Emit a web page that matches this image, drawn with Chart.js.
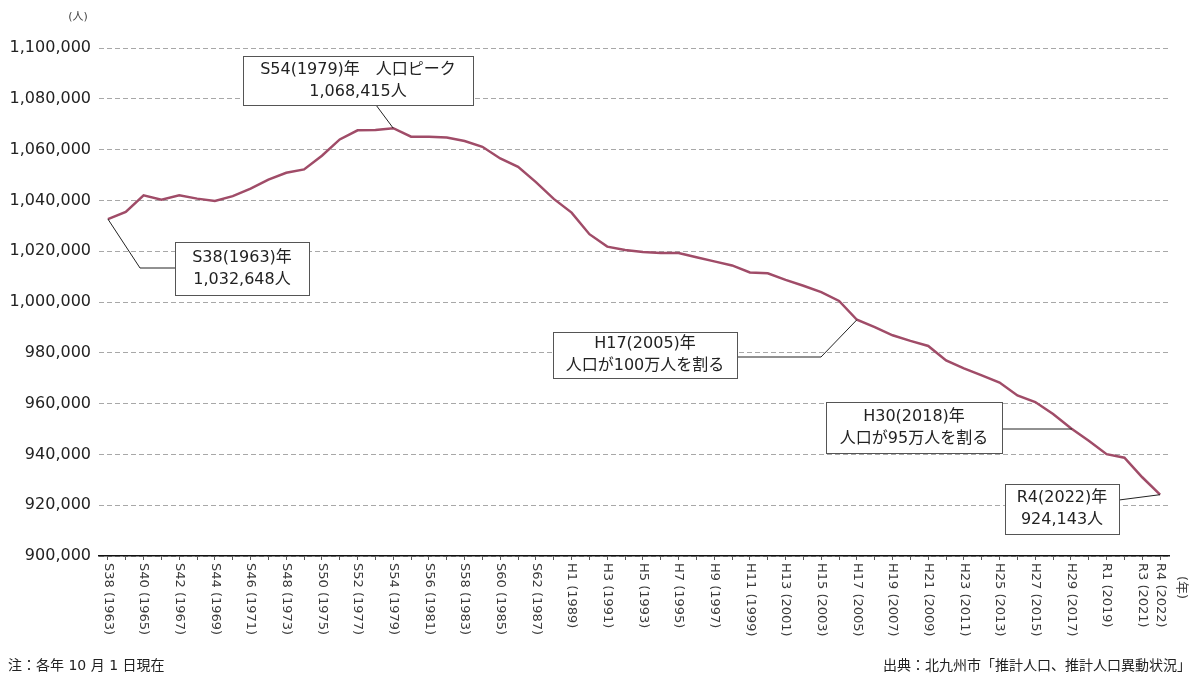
<!DOCTYPE html>
<html lang="ja">
<head>
<meta charset="utf-8">
<title>北九州市の人口推移</title>
<script src="https://cdn.jsdelivr.net/npm/chart.js@4/dist/chart.umd.min.js"></script>
<style>
  html, body { margin: 0; padding: 0; background: #fff; }
  #wrap { position: relative; width: 1195px; height: 678px; overflow: hidden; }
  canvas { display: block; }
  .note { position: absolute; top: 654px; font: 14px "DejaVu Sans", "Noto Sans CJK JP", sans-serif; color: #222; white-space: nowrap; }
  #note-left { left: 8px; }
  #note-right { right: 4px; }
</style>
</head>
<body>
<div id="wrap">
  <canvas id="chart" width="1195" height="678"></canvas>
  <div class="note" id="note-left">注：各年 10 月 1 日現在</div>
  <div class="note" id="note-right">出典：北九州市「推計人口、推計人口異動状況」</div>
</div>
<script>
// Each year's October 1 population of Kitakyushu, 1963–2022
const eraLabels = [
  'S38 (1963)', 'S39 (1964)', 'S40 (1965)', 'S41 (1966)', 'S42 (1967)', 'S43 (1968)',
  'S44 (1969)', 'S45 (1970)', 'S46 (1971)', 'S47 (1972)', 'S48 (1973)', 'S49 (1974)',
  'S50 (1975)', 'S51 (1976)', 'S52 (1977)', 'S53 (1978)', 'S54 (1979)', 'S55 (1980)',
  'S56 (1981)', 'S57 (1982)', 'S58 (1983)', 'S59 (1984)', 'S60 (1985)', 'S61 (1986)',
  'S62 (1987)', 'S63 (1988)', 'H1 (1989)', 'H2 (1990)', 'H3 (1991)', 'H4 (1992)',
  'H5 (1993)', 'H6 (1994)', 'H7 (1995)', 'H8 (1996)', 'H9 (1997)', 'H10 (1998)',
  'H11 (1999)', 'H12 (2000)', 'H13 (2001)', 'H14 (2002)', 'H15 (2003)', 'H16 (2004)',
  'H17 (2005)', 'H18 (2006)', 'H19 (2007)', 'H20 (2008)', 'H21 (2009)', 'H22 (2010)',
  'H23 (2011)', 'H24 (2012)', 'H25 (2013)', 'H26 (2014)', 'H27 (2015)', 'H28 (2016)',
  'H29 (2017)', 'H30 (2018)', 'R1 (2019)', 'R2 (2020)', 'R3 (2021)', 'R4 (2022)'
];

const population = [
  1032648, 1035500, 1042000, 1040300, 1042000, 1040700,
  1039800, 1041700, 1044600, 1048200, 1050900, 1052200,
  1057600, 1064000, 1067600, 1067700, 1068415, 1065100,
  1065100, 1064800, 1063400, 1061100, 1056500, 1053200,
  1047200, 1040600, 1035200, 1026700, 1021800, 1020500,
  1019700, 1019300, 1019300, 1017600, 1016000, 1014400,
  1011600, 1011300, 1008700, 1006400, 1003900, 1000400,
  993000, 990100, 986900, 984700, 982700, 977000,
  973900, 971100, 968300, 963200, 960600, 955900,
  950300, 945400, 940100, 938700, 931000, 924143
];

// Labels printed under the axis (every other year, plus the latest)
const xTickLabels = [
  'S38 (1963)', 'S40 (1965)', 'S42 (1967)', 'S44 (1969)', 'S46 (1971)', 'S48 (1973)',
  'S50 (1975)', 'S52 (1977)', 'S54 (1979)', 'S56 (1981)', 'S58 (1983)', 'S60 (1985)',
  'S62 (1987)', 'H1 (1989)', 'H3 (1991)', 'H5 (1993)', 'H7 (1995)', 'H9 (1997)',
  'H11 (1999)', 'H13 (2001)', 'H15 (2003)', 'H17 (2005)', 'H19 (2007)', 'H21 (2009)',
  'H23 (2011)', 'H25 (2013)', 'H27 (2015)', 'H29 (2017)', 'R1 (2019)', 'R3 (2021)', 'R4 (2022)'
];

const yTickValues = [900000, 920000, 940000, 960000, 980000, 1000000,
                     1020000, 1040000, 1060000, 1080000, 1100000];

const FONT = '"DejaVu Sans", "Noto Sans CJK JP", sans-serif';
const fmt = v => v.toLocaleString('en-US');

const idx = label => eraLabels.indexOf(label);
const iPeak = idx('S54 (1979)');
const iFirst = idx('S38 (1963)');
const iLast = idx('R4 (2022)');
const i2005 = idx('H17 (2005)');

// Callout boxes: rect = [left, top, width, height]; route = elbow points of the leader, box side first
const callouts = [
  { lines: ['S54(1979)年　人口ピーク', fmt(population[iPeak]) + '人'],
    rect: [243, 56, 230, 49], route: [[376, 105]], target: { index: iPeak } },
  { lines: ['S38(1963)年', fmt(population[iFirst]) + '人'],
    rect: [175, 242, 134, 53], route: [[175, 268], [140, 268]], target: { index: iFirst } },
  { lines: ['H17(2005)年', '人口が100万人を割る'],
    rect: [553, 332, 184, 46], route: [[737, 357], [821, 357]], target: { index: i2005 } },
  { lines: ['H30(2018)年', '人口が95万人を割る'],
    rect: [826, 402, 176, 51], route: [], target: { crossing: 950000 } },
  { lines: ['R4(2022)年', fmt(population[iLast]) + '人'],
    rect: [1005, 484, 114, 50], route: [[1119, 500]], target: { index: iLast } }
];

function targetPoint(chart, t) {
  const xs = chart.scales.x, ys = chart.scales.y;
  if (t.index !== undefined) {
    return [xs.getPixelForValue(t.index), ys.getPixelForValue(population[t.index])];
  }
  // where the series first drops below a threshold
  for (let i = 0; i < population.length - 1; i++) {
    if (population[i] >= t.crossing && population[i + 1] < t.crossing) {
      const f = (population[i] - t.crossing) / (population[i] - population[i + 1]);
      const x0 = xs.getPixelForValue(i), x1 = xs.getPixelForValue(i + 1);
      return [x0 + (x1 - x0) * f, ys.getPixelForValue(t.crossing)];
    }
  }
  return null;
}

const calloutPlugin = {
  id: 'callouts',
  afterDatasetsDraw(chart) {
    const ctx = chart.ctx;
    ctx.save();
    for (const c of callouts) {
      const tp = targetPoint(chart, c.target);
      const [l, t, w, h] = c.rect;
      // leader
      const pts = c.route.length ? c.route.slice() : [[l + w, tp[1]]];
      pts.push(tp);
      ctx.beginPath();
      ctx.moveTo(pts[0][0], pts[0][1]);
      for (let k = 1; k < pts.length; k++) ctx.lineTo(pts[k][0], pts[k][1]);
      ctx.strokeStyle = '#222';
      ctx.lineWidth = 1;
      ctx.stroke();
      // box
      ctx.fillStyle = '#fff';
      ctx.fillRect(l, t, w, h);
      ctx.strokeStyle = '#555';
      ctx.lineWidth = 1;
      ctx.strokeRect(l + 0.5, t + 0.5, w, h);
      // text
      ctx.fillStyle = '#222';
      ctx.font = '16px ' + FONT;
      ctx.textAlign = 'center';
      ctx.textBaseline = 'middle';
      const cy = t + h / 2, gap = 22;
      c.lines.forEach((s, k) => {
        ctx.fillText(s, l + w / 2, cy + (k - (c.lines.length - 1) / 2) * gap);
      });
    }
    ctx.restore();
  }
};

const axisTextPlugin = {
  id: 'axisText',
  afterDraw(chart) {
    const ctx = chart.ctx;
    const xs = chart.scales.x, area = chart.chartArea;
    ctx.save();
    ctx.fillStyle = '#3a3a3a';
    ctx.font = '13px ' + FONT;
    ctx.textAlign = 'left';
    ctx.textBaseline = 'middle';
    for (const lab of xTickLabels) {
      const x = xs.getPixelForValue(idx(lab));
      ctx.save();
      ctx.translate(x, area.bottom + 7);
      ctx.rotate(Math.PI / 2);
      ctx.fillText(lab, 0, 0);
      ctx.restore();
    }
    // x unit
    ctx.save();
    ctx.translate(area.right + 12, area.bottom + 20);
    ctx.rotate(Math.PI / 2);
    ctx.fillText('(年)', 0, 0);
    ctx.restore();
    // y unit
    ctx.font = '11px ' + FONT;
    ctx.textAlign = 'center';
    ctx.fillStyle = '#444';
    ctx.fillText('(人)', 78, 17);
    ctx.restore();
  }
};

new Chart(document.getElementById('chart'), {
  type: 'line',
  data: {
    labels: eraLabels,
    datasets: [{
      data: population,
      borderColor: '#a04c68',
      borderWidth: 2.5,
      pointRadius: 0,
      tension: 0,
      fill: false
    }]
  },
  options: {
    responsive: false,
    animation: false,
    devicePixelRatio: 1,
    layout: { padding: { top: 48, right: 26, bottom: 0, left: 0 } },
    plugins: { legend: { display: false }, tooltip: { enabled: false } },
    scales: {
      x: {
        type: 'category',
        offset: true,
        grid: { display: true, drawOnChartArea: false, drawTicks: true, tickLength: 4, color: '#555', offset: false },
        border: { display: true, color: '#111', width: 1.5 },
        ticks: { display: false, autoSkip: false },
        afterFit(s) { s.height = 122; }
      },
      y: {
        min: 900000,
        max: 1100000,
        afterBuildTicks(s) { s.ticks = yTickValues.map(v => ({ value: v })); },
        ticks: { font: { size: 16, family: FONT }, color: '#222', padding: 8, callback: v => fmt(v) },
        grid: { color: '#a8a8a8', lineWidth: 1, drawTicks: false },
        border: { display: false, dash: [5, 3] },
        afterFit(s) { s.width = 99; }
      }
    }
  },
  plugins: [calloutPlugin, axisTextPlugin]
});
</script>
</body>
</html>
